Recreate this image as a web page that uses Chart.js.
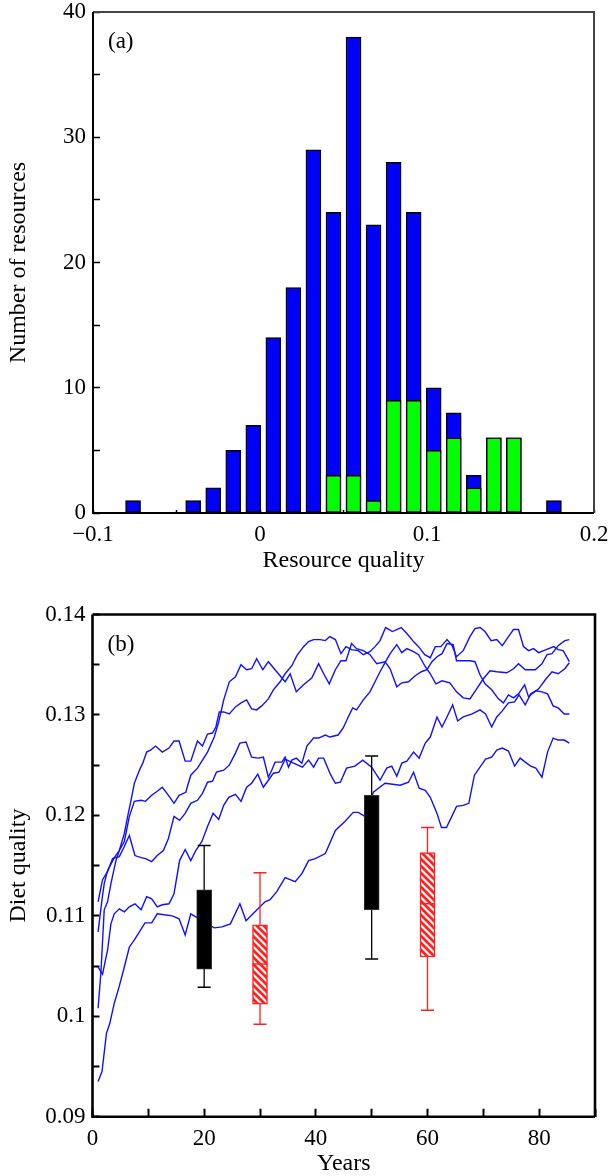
<!DOCTYPE html>
<html>
<head>
<meta charset="utf-8">
<script src="https://cdn.jsdelivr.net/npm/chart.js@4.4.1/dist/chart.umd.min.js"></script>
<style>
  html, body { margin: 0; padding: 0; background: #fff; }
  body { width: 612px; height: 1176px; overflow: hidden; position: relative; }
  canvas { position: absolute; left: 0; }
  #histChart { top: 0; }
  #dietChart { top: 585px; }
</style>
</head>
<body>
<canvas id="histChart" width="612" height="585"></canvas>
<canvas id="dietChart" width="612" height="611"></canvas>
<script>
// panel (a): histogram of resource quality
const binCentres = [-0.076, -0.064, -0.052, -0.040, -0.028, -0.016, -0.004, 0.008, 0.020, 0.032, 0.044,
  0.056, 0.068, 0.080, 0.092, 0.104, 0.116, 0.128, 0.140, 0.152, 0.164, 0.176];
const allCounts = [1, 0, 0, 1, 2, 5, 7, 14, 18, 29, 24, 38, 23, 28, 24, 10, 8, 3, 6, 6, 0, 1];
const usedCounts = [0, 0, 0, 0, 0, 0, 0, 0, 0, 0, 3, 3, 1, 9, 9, 5, 6, 2, 6, 6, 0, 0];

// panel (b): diet quality of five runs, [year, quality]
const runA = [[1, 0.1084], [1.7, 0.1116], [2.1, 0.1132], [2.7, 0.1145], [3.9, 0.1158], [4.8, 0.1165], [5.7, 0.1182],
  [6.3, 0.1199], [6.9, 0.1215], [7.5, 0.1232], [8.4, 0.1245], [9.0, 0.1252], [9.7, 0.1263], [10.4, 0.1265],
  [11.3, 0.1269], [12.5, 0.1263], [13.7, 0.1267], [14.6, 0.1274], [15.5, 0.1274], [16.6, 0.1254], [17.6, 0.1254],
  [18.8, 0.1274], [19.7, 0.1269], [20.6, 0.1281], [21.5, 0.1282], [22.1, 0.1288], [22.7, 0.1303], [23.5, 0.1303],
  [24.5, 0.1301], [25.6, 0.1308], [26.6, 0.1312], [27.6, 0.1315], [28.5, 0.1306], [29.4, 0.1305], [30.3, 0.1309],
  [31.5, 0.1316], [32.4, 0.1325], [33.6, 0.1333], [34.5, 0.1341], [35.7, 0.1349], [36.6, 0.1359], [37.8, 0.1368],
  [38.7, 0.1373], [39.6, 0.1375], [40.8, 0.1375], [41.7, 0.1374], [42.5, 0.1378], [43.5, 0.1375], [44.5, 0.1361],
  [45.4, 0.1368], [46.4, 0.1365], [47.6, 0.1364], [48.5, 0.1360], [49.7, 0.1363], [50.6, 0.1368], [51.5, 0.1374],
  [52.5, 0.1387], [53.7, 0.1383], [55.3, 0.1387], [56.3, 0.1381], [57.5, 0.1373], [58.4, 0.1368], [59.5, 0.1360],
  [60.5, 0.1357], [61.4, 0.1368], [62.4, 0.1368], [63.5, 0.1375], [64.4, 0.1369], [65.2, 0.1358], [66.4, 0.1364],
  [67.6, 0.1378], [68.5, 0.1386], [69.4, 0.1387], [70.3, 0.1383], [71.4, 0.1374], [72.4, 0.1375], [73.4, 0.1369],
  [74.5, 0.1378], [75.4, 0.1385], [76.3, 0.1385], [77.2, 0.1368], [78.1, 0.1364], [79.0, 0.1366], [79.9, 0.1362],
  [80.8, 0.1364], [81.7, 0.1366], [82.6, 0.1368], [83.4, 0.1365], [84.3, 0.1364], [85.4, 0.1353]];

const runB = [[1, 0.1008], [1.5, 0.1043], [2.1, 0.1106], [2.7, 0.1114], [3.3, 0.1132], [4.2, 0.1155], [4.8, 0.1165],
  [5.7, 0.1174], [6.6, 0.1199], [7.5, 0.1214], [8.7, 0.1215], [9.5, 0.1214], [10.6, 0.1220], [11.6, 0.1224],
  [12.5, 0.1228], [13.6, 0.1220], [14.6, 0.1212], [15.5, 0.1220], [16.7, 0.1223], [17.6, 0.1240], [18.8, 0.1247],
  [19.7, 0.1255], [20.6, 0.1263], [21.8, 0.1278], [22.6, 0.1293], [23.5, 0.1315], [24.5, 0.1333], [25.6, 0.1338],
  [26.6, 0.1350], [27.6, 0.1345], [28.5, 0.1346], [29.4, 0.1356], [30.5, 0.1345], [31.5, 0.1353], [32.7, 0.1345],
  [33.6, 0.1339], [34.5, 0.1333], [35.4, 0.1341], [36.5, 0.1323], [37.8, 0.1330], [39.3, 0.1337], [40.5, 0.1351],
  [41.4, 0.1341], [42.4, 0.1331], [43.5, 0.1345], [44.5, 0.1354], [45.4, 0.1354], [46.4, 0.1371], [47.3, 0.1366],
  [48.5, 0.1364], [49.7, 0.1360], [50.9, 0.1351], [52.4, 0.1353], [53.3, 0.1346], [54.5, 0.1328], [55.4, 0.1332],
  [56.6, 0.1333], [57.8, 0.1339], [58.9, 0.1343], [59.9, 0.1345], [60.8, 0.1353], [61.7, 0.1358], [62.6, 0.1361],
  [63.5, 0.1371], [64.6, 0.1370], [65.2, 0.1354], [66.4, 0.1354], [67.6, 0.1354], [68.5, 0.1353], [69.4, 0.1340],
  [70.3, 0.1331], [71.5, 0.1325], [72.7, 0.1316], [73.6, 0.1312], [74.5, 0.1320], [75.4, 0.1317], [76.3, 0.1321],
  [77.4, 0.1330], [78.1, 0.1318], [78.7, 0.1321], [79.9, 0.1326], [81.1, 0.1335], [82.3, 0.1343], [83.4, 0.1341],
  [84.6, 0.1346], [85.4, 0.1352]];

const runC = [[1, 0.1114], [1.8, 0.1136], [2.7, 0.1144], [3.6, 0.1157], [4.8, 0.1159], [5.7, 0.1169], [6.6, 0.1180],
  [7.6, 0.1160], [8.7, 0.1158], [9.5, 0.1157], [10.6, 0.1154], [11.6, 0.1160], [12.7, 0.1165], [13.6, 0.1177],
  [14.6, 0.1199], [15.6, 0.1195], [16.6, 0.1202], [17.6, 0.1212], [18.8, 0.1215], [19.7, 0.1222], [20.6, 0.1233],
  [21.5, 0.1234], [22.2, 0.1243], [23.5, 0.1245], [24.5, 0.1250], [25.6, 0.1262], [26.4, 0.1272], [27.5, 0.1273],
  [28.5, 0.1258], [29.7, 0.1257], [30.6, 0.1258], [31.5, 0.1238], [32.1, 0.1245], [32.7, 0.1253], [33.9, 0.1253],
  [34.5, 0.1258], [35.1, 0.1248], [35.7, 0.1255], [36.5, 0.1257], [37.5, 0.1252], [38.4, 0.1269], [39.6, 0.1277],
  [40.5, 0.1277], [41.7, 0.1280], [42.5, 0.1278], [44.0, 0.1280], [44.9, 0.1287], [45.8, 0.1298], [46.6, 0.1307],
  [47.3, 0.1305], [48.5, 0.1315], [49.7, 0.1323], [50.6, 0.1333], [51.5, 0.1343], [52.4, 0.1352], [53.3, 0.1361],
  [54.5, 0.1370], [55.4, 0.1362], [56.3, 0.1366], [57.5, 0.1363], [58.4, 0.1360], [59.6, 0.1348], [60.5, 0.1341],
  [61.5, 0.1331], [62.6, 0.1334], [64.0, 0.1332], [65.2, 0.1323], [66.4, 0.1317], [67.6, 0.1316], [68.8, 0.1326],
  [70.0, 0.1336], [71.2, 0.1344], [72.4, 0.1343], [74.2, 0.1342], [75.4, 0.1346], [76.3, 0.1351], [77.5, 0.1345],
  [79.3, 0.1345], [80.5, 0.1351], [81.4, 0.1360], [82.3, 0.1361], [83.4, 0.1369], [84.6, 0.1374], [85.4, 0.1375]];

const runD = [[1, 0.1049], [1.8, 0.1042], [2.7, 0.1066], [3.3, 0.1092], [3.9, 0.1102], [4.8, 0.1107], [5.7, 0.1104],
  [6.6, 0.1109], [7.6, 0.1112], [8.7, 0.1106], [9.7, 0.1119], [10.6, 0.1117], [11.6, 0.1109], [12.5, 0.1111],
  [13.7, 0.1112], [14.6, 0.1122], [15.6, 0.1155], [16.6, 0.1166], [17.6, 0.1155], [18.5, 0.1165], [19.6, 0.1174],
  [20.6, 0.1189], [21.6, 0.1202], [22.6, 0.1196], [23.5, 0.1210], [24.4, 0.1218], [25.6, 0.1221], [26.6, 0.1214],
  [27.6, 0.1228], [28.5, 0.1232], [29.6, 0.1241], [30.6, 0.1228], [31.5, 0.1235], [32.4, 0.1242], [33.4, 0.1243],
  [34.5, 0.1256], [36.0, 0.1252], [37.6, 0.1248], [38.7, 0.1255], [39.6, 0.1248], [40.5, 0.1257], [41.4, 0.1257],
  [42.6, 0.1241], [43.5, 0.1232], [44.4, 0.1233], [45.5, 0.1247], [47.0, 0.1249], [48.4, 0.1255], [50.0, 0.1248],
  [51.5, 0.1235], [52.7, 0.1247], [53.6, 0.1249], [54.5, 0.1239], [55.4, 0.1252], [56.3, 0.1254], [57.5, 0.1263],
  [58.5, 0.1257], [59.6, 0.1272], [60.5, 0.1278], [61.7, 0.1298], [62.6, 0.1288], [63.4, 0.1297], [64.5, 0.1310],
  [65.4, 0.1294], [66.4, 0.1298], [68.0, 0.1301], [69.4, 0.1305], [70.4, 0.1301], [71.5, 0.1288], [72.4, 0.1298],
  [73.4, 0.1304], [74.5, 0.1312], [75.6, 0.1313], [76.4, 0.1320], [77.5, 0.1310], [78.5, 0.1321], [79.4, 0.1324],
  [80.5, 0.1323], [81.5, 0.1321], [82.5, 0.1309], [83.4, 0.1307], [84.5, 0.1301], [85.4, 0.1301]];

const runE = [[1, 0.0935], [1.7, 0.0945], [2.5, 0.0983], [3.1, 0.0993], [3.9, 0.1013], [4.8, 0.1030], [5.7, 0.1049],
  [6.6, 0.1069], [7.5, 0.1076], [8.4, 0.1084], [9.4, 0.1093], [10.6, 0.1093], [11.6, 0.1102], [12.8, 0.1101],
  [14.3, 0.1100], [15.5, 0.1097], [16.6, 0.1081], [17.6, 0.1102], [18.5, 0.1099], [21.8, 0.1088], [23.2, 0.1089],
  [24.7, 0.1092], [26.4, 0.1112], [27.5, 0.1095], [29.1, 0.1104], [30.9, 0.1114], [31.8, 0.1116], [33.0, 0.1124],
  [34.5, 0.1138], [36.3, 0.1134], [37.5, 0.1142], [38.7, 0.1155], [39.9, 0.1157], [41.7, 0.1162], [43.5, 0.1185],
  [45.2, 0.1194], [46.7, 0.1203], [47.6, 0.1203], [48.8, 0.1199], [50.3, 0.1223], [52.4, 0.1232], [55.1, 0.1230],
  [56.6, 0.1233], [57.5, 0.1243], [58.5, 0.1227], [59.6, 0.1225], [60.5, 0.1218], [61.7, 0.1202], [62.5, 0.1188],
  [63.4, 0.1188], [65.2, 0.1209], [66.4, 0.1210], [67.4, 0.1212], [68.4, 0.1240], [69.4, 0.1248], [70.4, 0.1256],
  [71.5, 0.1258], [72.4, 0.1265], [73.4, 0.1267], [74.5, 0.1264], [75.6, 0.1249], [76.6, 0.1257], [77.5, 0.1253],
  [78.5, 0.1249], [79.4, 0.1247], [80.5, 0.1238], [81.5, 0.1263], [82.5, 0.1277], [83.4, 0.1275], [84.5, 0.1275],
  [85.4, 0.1272]];

// box plots: black at 20 and 50, hatched red at 30 and 60
const boxYears = [20, 30, 50, 60];
const boxLow = [0.1029, 0.0992, 0.1057, 0.1006];
const boxQ1 = [0.1047, 0.1012, 0.1106, 0.1059];
const boxMedian = [null, 0.1052, null, 0.1112];
const boxQ3 = [0.1126, 0.1091, 0.1220, 0.1163];
const boxHigh = [0.1170, 0.1143, 0.1259, 0.1188];
const boxHatched = [false, true, false, true];

const RED = '#ff2020';
const BLUE = '#1010ff';

Chart.defaults.font.family = "'Liberation Serif', 'Times New Roman', serif";
Chart.defaults.font.size = 23;
Chart.defaults.color = '#000';

function hatchPattern() {
  const c = document.createElement('canvas');
  const s = 7;
  c.width = s;
  c.height = s;
  const g = c.getContext('2d');
  g.fillStyle = '#fff';
  g.fillRect(0, 0, s, s);
  g.strokeStyle = RED;
  g.lineWidth = 2.8;
  g.beginPath();
  g.moveTo(-1, -1); g.lineTo(s + 1, s + 1);
  g.moveTo(-2, s - 2); g.lineTo(2, s + 2);
  g.moveTo(s - 2, -2); g.lineTo(s + 2, 2);
  g.stroke();
  return g.createPattern(c, 'repeat');
}

function framePlugin(label, topRightColor, width) {
  return {
    id: 'frame',
    afterDraw(chart) {
      const { ctx, chartArea: a } = chart;
      ctx.save();
      ctx.lineWidth = width;
      ctx.strokeStyle = topRightColor;
      ctx.beginPath();
      ctx.moveTo(a.left, a.top);
      ctx.lineTo(a.right, a.top);
      ctx.lineTo(a.right, a.bottom);
      ctx.stroke();
      ctx.strokeStyle = '#000';
      ctx.beginPath();
      ctx.moveTo(a.left, a.top);
      ctx.lineTo(a.left, a.bottom);
      ctx.lineTo(a.right, a.bottom);
      ctx.stroke();
      ctx.fillStyle = '#000';
      ctx.font = "23px 'Liberation Serif'";
      ctx.textBaseline = 'middle';
      ctx.fillText(label, a.left + 15, a.top + 30);
      ctx.restore();
    }
  };
}

function signed(v) {
  if (v === 0) return '0';
  return v < 0 ? '\u2212' + Math.abs(v) : String(v);
}

function axisTitle(text, padding) {
  return { display: true, text: text, padding: padding, font: { size: 24 } };
}

// keep the plot area where the layout padding puts it
function fixHeight(h) {
  return s => { s.height = h; s.paddingLeft = 0; s.paddingRight = 0; };
}
function fixWidth(w) {
  return s => { s.width = w; s.paddingTop = 0; s.paddingBottom = 0; };
}

// ---------- (a) ----------
const histBars = {
  borderColor: '#000',
  borderWidth: 1.5,
  borderSkipped: false,
  barThickness: 15,
  grouped: false
};

new Chart(document.getElementById('histChart'), {
  type: 'bar',
  data: {
    datasets: [
      {
        ...histBars,
        label: 'Used',
        data: binCentres.map((x, i) => ({ x: x, y: usedCounts[i] })),
        backgroundColor: '#00ff00',
        order: 0
      },
      {
        ...histBars,
        label: 'All',
        data: binCentres.map((x, i) => ({ x: x, y: allCounts[i] })),
        backgroundColor: '#0000ff',
        order: 1
      }
    ]
  },
  options: {
    responsive: false,
    animation: false,
    layout: { padding: { top: 12, right: 18, left: 0, bottom: 0 } },
    plugins: { legend: { display: false }, tooltip: { enabled: false } },
    scales: {
      x: {
        type: 'linear',
        min: -0.1,
        max: 0.2,
        offset: false,
        border: { display: false },
        grid: { offset: false, drawOnChartArea: false, tickLength: -3, tickColor: '#000', tickWidth: 1.5 },
        ticks: {
          stepSize: 0.05,
          padding: 11,
          maxRotation: 0,
          autoSkip: false,
          callback: v => {
            const k = Math.round(v * 100);
            return k % 10 === 0 ? signed(k / 100) : '';
          }
        },
        title: axisTitle('Resource quality', { top: 0, bottom: 10 }),
        afterFit: fixHeight(72)
      },
      y: {
        min: 0,
        max: 40,
        border: { display: false },
        grid: { drawOnChartArea: false, tickLength: -7, tickColor: '#000', tickWidth: 1.5 },
        ticks: {
          stepSize: 5,
          padding: 14,
          autoSkip: false,
          callback: v => (v % 10 === 0 ? String(v) : '')
        },
        title: axisTitle('Number of resources', { top: 4, bottom: 0 }),
        afterFit: fixWidth(93)
      }
    }
  },
  plugins: [framePlugin('(a)', '#444', 2)]
});

// ---------- (b) ----------
const hatch = hatchPattern();

function runDataset(run) {
  return {
    type: 'line',
    data: run.map(([x, y]) => ({ x: x, y: y })),
    borderColor: BLUE,
    borderWidth: 1.4,
    pointRadius: 0,
    fill: false,
    tension: 0,
    order: 3
  };
}

function whiskerDataset(hatched, color) {
  const pts = [];
  boxYears.forEach((x, i) => {
    if (boxHatched[i] !== hatched) return;
    pts.push({ x: x, y: boxLow[i] }, { x: x, y: boxHigh[i] }, { x: x + 1, y: null });
  });
  return {
    type: 'line',
    data: pts,
    borderColor: color,
    borderWidth: 1.3,
    pointRadius: 0,
    spanGaps: false,
    order: 1
  };
}

function capDataset(hatched, color) {
  const pts = [];
  boxYears.forEach((x, i) => {
    if (boxHatched[i] !== hatched) return;
    pts.push({ x: x, y: boxLow[i] }, { x: x, y: boxHigh[i] });
  });
  return {
    type: 'line',
    data: pts,
    showLine: false,
    pointStyle: 'line',
    pointRadius: 6.5,
    pointBorderWidth: 1.5,
    pointBorderColor: color,
    borderColor: color,
    order: 1
  };
}

new Chart(document.getElementById('dietChart'), {
  type: 'bar',
  data: {
    datasets: [
      {
        type: 'bar',
        label: 'Boxes',
        data: boxYears.map((x, i) => ({ x: x, y: [boxQ1[i], boxQ3[i]] })),
        backgroundColor: boxHatched.map(h => (h ? hatch : '#000')),
        borderColor: boxHatched.map(h => (h ? RED : '#333')),
        borderWidth: boxHatched.map(h => (h ? 1.5 : 1)),
        borderSkipped: false,
        barThickness: 15,
        grouped: false,
        order: 0
      },
      {
        type: 'line',
        label: 'Medians',
        data: boxYears.map((x, i) => ({ x: x, y: boxMedian[i] })),
        showLine: false,
        pointStyle: 'line',
        pointRadius: 7.5,
        pointBorderWidth: 1.5,
        pointBorderColor: RED,
        borderColor: RED,
        order: -1
      },
      whiskerDataset(false, '#000'),
      whiskerDataset(true, RED),
      capDataset(false, '#000'),
      capDataset(true, RED),
      runDataset(runA),
      runDataset(runB),
      runDataset(runC),
      runDataset(runD),
      runDataset(runE)
    ]
  },
  options: {
    responsive: false,
    animation: false,
    layout: { padding: { top: 29.5, right: 17, left: 0, bottom: 0 } },
    plugins: { legend: { display: false }, tooltip: { enabled: false } },
    scales: {
      x: {
        type: 'linear',
        min: 0,
        max: 90,
        offset: false,
        border: { display: false },
        grid: { offset: false, drawOnChartArea: false, tickLength: -8, tickColor: '#000', tickWidth: 2 },
        ticks: {
          stepSize: 10,
          padding: 16,
          maxRotation: 0,
          autoSkip: false,
          callback: v => (v % 20 === 0 && v <= 80 ? String(v) : '')
        },
        title: axisTitle('Years', { top: 0, bottom: 18 }),
        afterFit: fixHeight(79.3)
      },
      y: {
        min: 0.09,
        max: 0.14,
        border: { display: false },
        grid: { drawOnChartArea: false, tickLength: -7, tickColor: '#000', tickWidth: 2 },
        ticks: {
          stepSize: 0.005,
          padding: 14,
          autoSkip: false,
          callback: v => {
            const k = Math.round(v * 1000);
            return k % 10 === 0 ? String(k / 1000) : '';
          }
        },
        title: axisTitle('Diet quality', { top: 4, bottom: 0 }),
        afterFit: fixWidth(92.5)
      }
    }
  },
  plugins: [framePlugin('(b)', '#000', 2.6)]
});
</script>
</body>
</html>
